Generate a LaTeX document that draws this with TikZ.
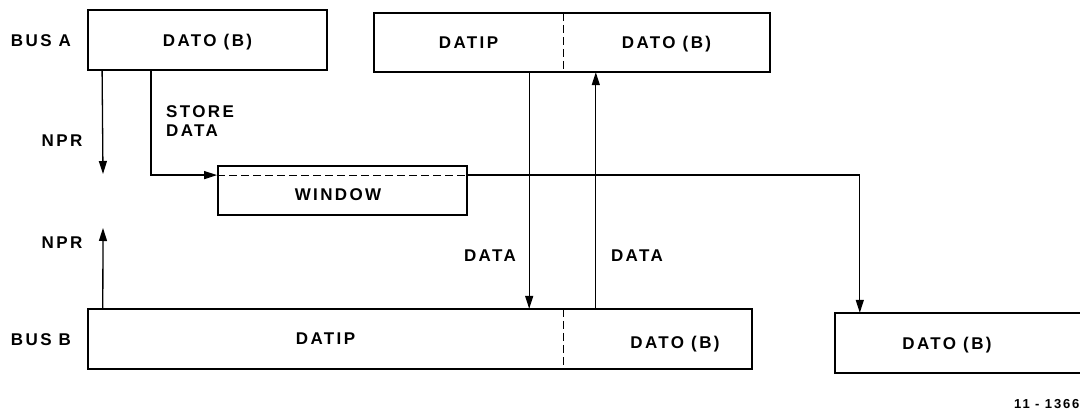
\documentclass[tikz,border=0pt]{standalone}
\usepackage{fontspec}
\setmainfont{Liberation Sans}[LetterSpace=14]
\usetikzlibrary{arrows.meta,calc}
\begin{document}
\begin{tikzpicture}[x=1pt,y=-1pt,
  txt/.style={font=\fontsize{17}{19}\selectfont\bfseries},
  box/.style={draw,line width=1.8pt,inner sep=0pt,text depth=0pt,txt},
  half/.style={inner sep=0pt,text depth=0pt,txt},
  lbl/.style={inner sep=0pt,text depth=0pt,txt},
  conn/.style={line width=1.3pt},
  arr/.style={conn,-{Triangle[length=13pt,width=8pt]}},
  divider/.style={line width=1.2pt,dash pattern=on 8pt off 4pt}]
\useasboundingbox (0,0) rectangle (1080,415);
\clip (0,0) rectangle (1080,415);
% boxes
\node[box,minimum width=239pt,minimum height=60pt] (A1) at (207.5,40) {DATO (B)};
\node[half,minimum width=189pt,minimum height=59pt] (A2L) at (468.5,42.5) {DATIP};
\node[half,minimum width=207pt,minimum height=59pt] (A2R) at (666.5,42.5) {DATO (B)};
\draw[line width=1.8pt] (A2L.north west) rectangle (A2R.south east);
\draw[divider] (A2L.north east) -- (A2L.south east);
\node[box,minimum width=249pt,minimum height=49pt] (Win) at (342.5,190.5) {};
\node[half] (WinT) at (338,195) {WINDOW};
\node[half,minimum width=475pt,minimum height=60pt] (BL) at (325.5,339) {DATIP};
\node[half,minimum width=189pt,minimum height=60pt] (BR) at (657.5,339) {};
\node[half] (BRT) at (675,342) {DATO (B)};
\draw[line width=1.8pt] (BL.north west) rectangle (BR.south east);
\draw[divider] (BL.north east) -- (BL.south east);
\node[half,minimum width=255pt,minimum height=60pt] (R) at (962.5,343) {};
\draw[line width=1.8pt] (R.north east) -- (R.north west) -- (R.south west) -- (R.south east);
\node[half] (RT) at (947,343) {DATO (B)};
% labels
\node[lbl] (busa) at (41,41) {BUS A};
\node[lbl] (busb) at (41,340) {BUS B};
\node[lbl] (npr1) at (62,141) {NPR};
\node[lbl] (npr2) at (62,243) {NPR};
\node[lbl,anchor=west,align=left,font=\fontsize{17}{19}\selectfont\bfseries] (store) at (166,121) {STORE\\DATA};
\node[lbl] (data1) at (490,256) {DATA};
\node[lbl] (data2) at (637,256) {DATA};
\node[lbl,anchor=west,font=\fontsize{13}{15}\selectfont\bfseries] (fig) at (1014,404) {11 - 1366};
% connectors
\coordinate (n1) at (103,174);
\coordinate (n2) at (103,228);
\draw[arr] ([xshift=15pt]A1.south west) -- (n1);
\draw[arr] ([xshift=15pt]BL.north west) -- (n2);
\draw[arr] ([xshift=64pt]A1.south west) |- ([yshift=-10pt]Win.north west);
\draw[divider] ([yshift=-10pt]Win.north west) -- ([yshift=-10pt]Win.north east);
\draw[arr] ([yshift=-10pt]Win.north east) -| ([xshift=25pt]R.north west);
\draw[arr] ([xshift=-34pt]A2L.south east) -- ([xshift=-34pt]BL.north east);
\draw[arr] ([xshift=33pt]BR.north west) -- ([xshift=33pt]A2R.south west);
\end{tikzpicture}
\end{document}
